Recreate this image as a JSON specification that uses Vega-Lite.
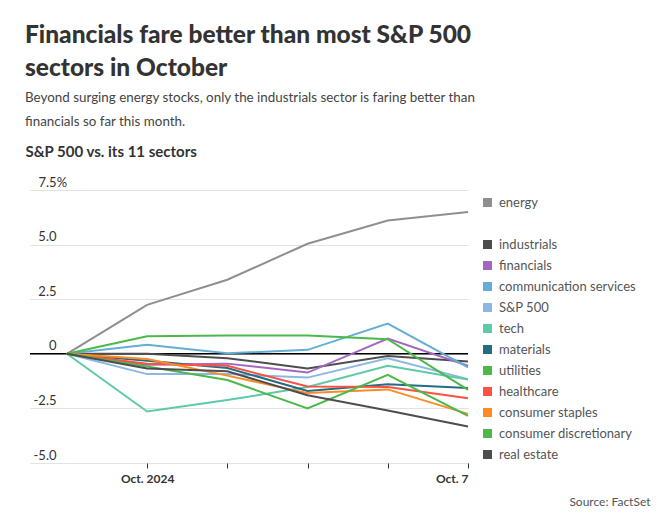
{
  "$schema": "https://vega.github.io/schema/vega-lite/v6.json",
  "width": 438,
  "height": 273,
  "autosize": {"type": "none"},
  "padding": {"left": 30, "top": 190, "right": 193, "bottom": 51},
  "background": "white",
  "title": {
    "text": ["Financials fare better than most S&P 500", "sectors in October"],
    "subtitle": ["Beyond surging energy stocks, only the industrials sector is faring better than", "financials so far this month."],
    "anchor": "start",
    "frame": "group",
    "dx": -5,
    "offset": 15,
    "font": "Lato",
    "fontSize": 24.5,
    "fontWeight": 900,
    "color": "#333333",
    "lineHeight": 33,
    "subtitleFont": "Lato",
    "subtitleFontSize": 13.4,
    "subtitleColor": "#444444",
    "subtitleLineHeight": 24,
    "subtitlePadding": 9
  },
  "data": {
    "values": [
      {"day": 0, "sector": "energy", "value": 0}, {"day": 1, "sector": "energy", "value": 2.24}, {"day": 2, "sector": "energy", "value": 3.39}, {"day": 3, "sector": "energy", "value": 5.04}, {"day": 4, "sector": "energy", "value": 6.1}, {"day": 5, "sector": "energy", "value": 6.49},
      {"day": 0, "sector": "industrials", "value": 0}, {"day": 1, "sector": "industrials", "value": 0.0}, {"day": 2, "sector": "industrials", "value": -0.2}, {"day": 3, "sector": "industrials", "value": -0.67}, {"day": 4, "sector": "industrials", "value": -0.1}, {"day": 5, "sector": "industrials", "value": -0.35},
      {"day": 0, "sector": "financials", "value": 0}, {"day": 1, "sector": "financials", "value": -0.5}, {"day": 2, "sector": "financials", "value": -0.45}, {"day": 3, "sector": "financials", "value": -0.86}, {"day": 4, "sector": "financials", "value": 0.7}, {"day": 5, "sector": "financials", "value": -0.55},
      {"day": 0, "sector": "communication services", "value": 0}, {"day": 1, "sector": "communication services", "value": 0.41}, {"day": 2, "sector": "communication services", "value": 0.02}, {"day": 3, "sector": "communication services", "value": 0.18}, {"day": 4, "sector": "communication services", "value": 1.38}, {"day": 5, "sector": "communication services", "value": -0.62},
      {"day": 0, "sector": "S&P 500", "value": 0}, {"day": 1, "sector": "S&P 500", "value": -0.93}, {"day": 2, "sector": "S&P 500", "value": -0.92}, {"day": 3, "sector": "S&P 500", "value": -1.09}, {"day": 4, "sector": "S&P 500", "value": -0.2}, {"day": 5, "sector": "S&P 500", "value": -1.16},
      {"day": 0, "sector": "tech", "value": 0}, {"day": 1, "sector": "tech", "value": -2.64}, {"day": 2, "sector": "tech", "value": -2.12}, {"day": 3, "sector": "tech", "value": -1.52}, {"day": 4, "sector": "tech", "value": -0.55}, {"day": 5, "sector": "tech", "value": -1.18},
      {"day": 0, "sector": "materials", "value": 0}, {"day": 1, "sector": "materials", "value": -0.32}, {"day": 2, "sector": "materials", "value": -0.65}, {"day": 3, "sector": "materials", "value": -1.7}, {"day": 4, "sector": "materials", "value": -1.4}, {"day": 5, "sector": "materials", "value": -1.57},
      {"day": 0, "sector": "utilities", "value": 0}, {"day": 1, "sector": "utilities", "value": 0.8}, {"day": 2, "sector": "utilities", "value": 0.84}, {"day": 3, "sector": "utilities", "value": 0.84}, {"day": 4, "sector": "utilities", "value": 0.67}, {"day": 5, "sector": "utilities", "value": -1.65},
      {"day": 0, "sector": "healthcare", "value": 0}, {"day": 1, "sector": "healthcare", "value": -0.46}, {"day": 2, "sector": "healthcare", "value": -0.55}, {"day": 3, "sector": "healthcare", "value": -1.5}, {"day": 4, "sector": "healthcare", "value": -1.52}, {"day": 5, "sector": "healthcare", "value": -2.03},
      {"day": 0, "sector": "consumer staples", "value": 0}, {"day": 1, "sector": "consumer staples", "value": -0.24}, {"day": 2, "sector": "consumer staples", "value": -1.0}, {"day": 3, "sector": "consumer staples", "value": -1.8}, {"day": 4, "sector": "consumer staples", "value": -1.63}, {"day": 5, "sector": "consumer staples", "value": -2.75},
      {"day": 0, "sector": "consumer discretionary", "value": 0}, {"day": 1, "sector": "consumer discretionary", "value": -0.58}, {"day": 2, "sector": "consumer discretionary", "value": -1.2}, {"day": 3, "sector": "consumer discretionary", "value": -2.5}, {"day": 4, "sector": "consumer discretionary", "value": -0.96}, {"day": 5, "sector": "consumer discretionary", "value": -2.84},
      {"day": 0, "sector": "real estate", "value": 0}, {"day": 1, "sector": "real estate", "value": -0.67}, {"day": 2, "sector": "real estate", "value": -0.8}, {"day": 3, "sector": "real estate", "value": -1.9}, {"day": 4, "sector": "real estate", "value": -2.6}, {"day": 5, "sector": "real estate", "value": -3.33}
    ]
  },
  "layer": [
    {
      "data": {"values": [{"zero": 0}]},
      "mark": {"type": "rule", "color": "#000000", "strokeWidth": 1.5},
      "encoding": {
        "y": {"field": "zero", "type": "quantitative", "scale": {"domain": [-5, 7.5], "nice": false}}
      }
    },
    {
      "mark": {"type": "line", "strokeWidth": 2},
      "encoding": {
        "x": {
          "field": "day",
          "type": "quantitative",
          "scale": {"domain": [-0.46, 5], "nice": false, "zero": false},
          "axis": {
            "values": [1, 2, 3, 4, 5],
            "labelExpr": "datum.value == 1 ? 'Oct. 2024' : datum.value == 5 ? 'Oct. 7' : ''",
            "labelAlign": {"condition": {"test": "datum.value == 5", "value": "right"}, "value": "center"},
            "labelFlush": false,
            "labelOverlap": false,
            "labelFont": "Lato",
            "labelFontSize": 12,
            "labelFontWeight": "bold",
            "labelColor": "#333333",
            "labelPadding": 5,
            "grid": false,
            "domain": false,
            "ticks": true,
            "tickSize": 5,
            "tickColor": "#333333",
            "title": "Source: FactSet",
            "titleFont": "Lato",
            "titleFontSize": 12,
            "titleFontWeight": "normal",
            "titleColor": "#555555",
            "titleAlign": "right",
            "titleBaseline": "alphabetic",
            "titleX": 620,
            "titleY": 42
          }
        },
        "y": {
          "field": "value",
          "type": "quantitative",
          "scale": {"domain": [-5, 7.5], "nice": false},
          "axis": {
            "values": [-5, -2.5, 0, 2.5, 5, 7.5],
            "labelExpr": "datum.value == 7.5 ? '7.5%' : datum.value == 0 ? '0' : (datum.value < 0 ? '-' + format(-datum.value, '.1f') : format(datum.value, '.1f'))",
            "labelAlign": {"condition": {"test": "datum.value == 7.5", "value": "left"}, "value": "right"},
            "labelPadding": {"condition": {"test": "datum.value == 7.5", "value": -8}, "value": -26},
            "labelBaseline": "alphabetic",
            "labelOffset": -4,
            "labelFont": "Lato",
            "labelFontSize": 13,
            "labelColor": "#333333",
            "ticks": false,
            "tickSize": 0,
            "domain": false,
            "grid": true,
            "gridColor": "#e2e2e2",
            "gridWidth": 1,
            "title": "S&P 500 vs. its 11 sectors",
            "titleAngle": 0,
            "titleAlign": "left",
            "titleBaseline": "alphabetic",
            "titleX": -5,
            "titleY": -34,
            "titleFont": "Lato",
            "titleFontSize": 15,
            "titleFontWeight": "bold",
            "titleColor": "#333333"
          }
        },
        "color": {
          "field": "sector",
          "type": "nominal",
          "scale": {
            "domain": ["energy", " ", "industrials", "financials", "communication services", "S&P 500", "tech", "materials", "utilities", "healthcare", "consumer staples", "consumer discretionary", "real estate"],
            "range": ["#8f8f8f", "transparent", "#4d4d4d", "#a267c2", "#62afd3", "#8bb8e3", "#5fc9a9", "#236d82", "#4cb84c", "#fd5142", "#fd8a25", "#4cb84c", "#4d4d4d"]
          },
          "legend": {
            "title": null,
            "orient": "right",
            "offset": 3,
            "padding": 6,
            "symbolType": "square",
            "symbolSize": 20,
            "symbolStrokeWidth": 4.5,
            "labelFont": "Lato",
            "labelFontSize": 13,
            "labelColor": "#555555",
            "labelOffset": 5,
            "rowPadding": -2,
            "labelLimit": 200
          }
        }
      }
    }
  ],
  "config": {
    "view": {"stroke": null}
  }
}
